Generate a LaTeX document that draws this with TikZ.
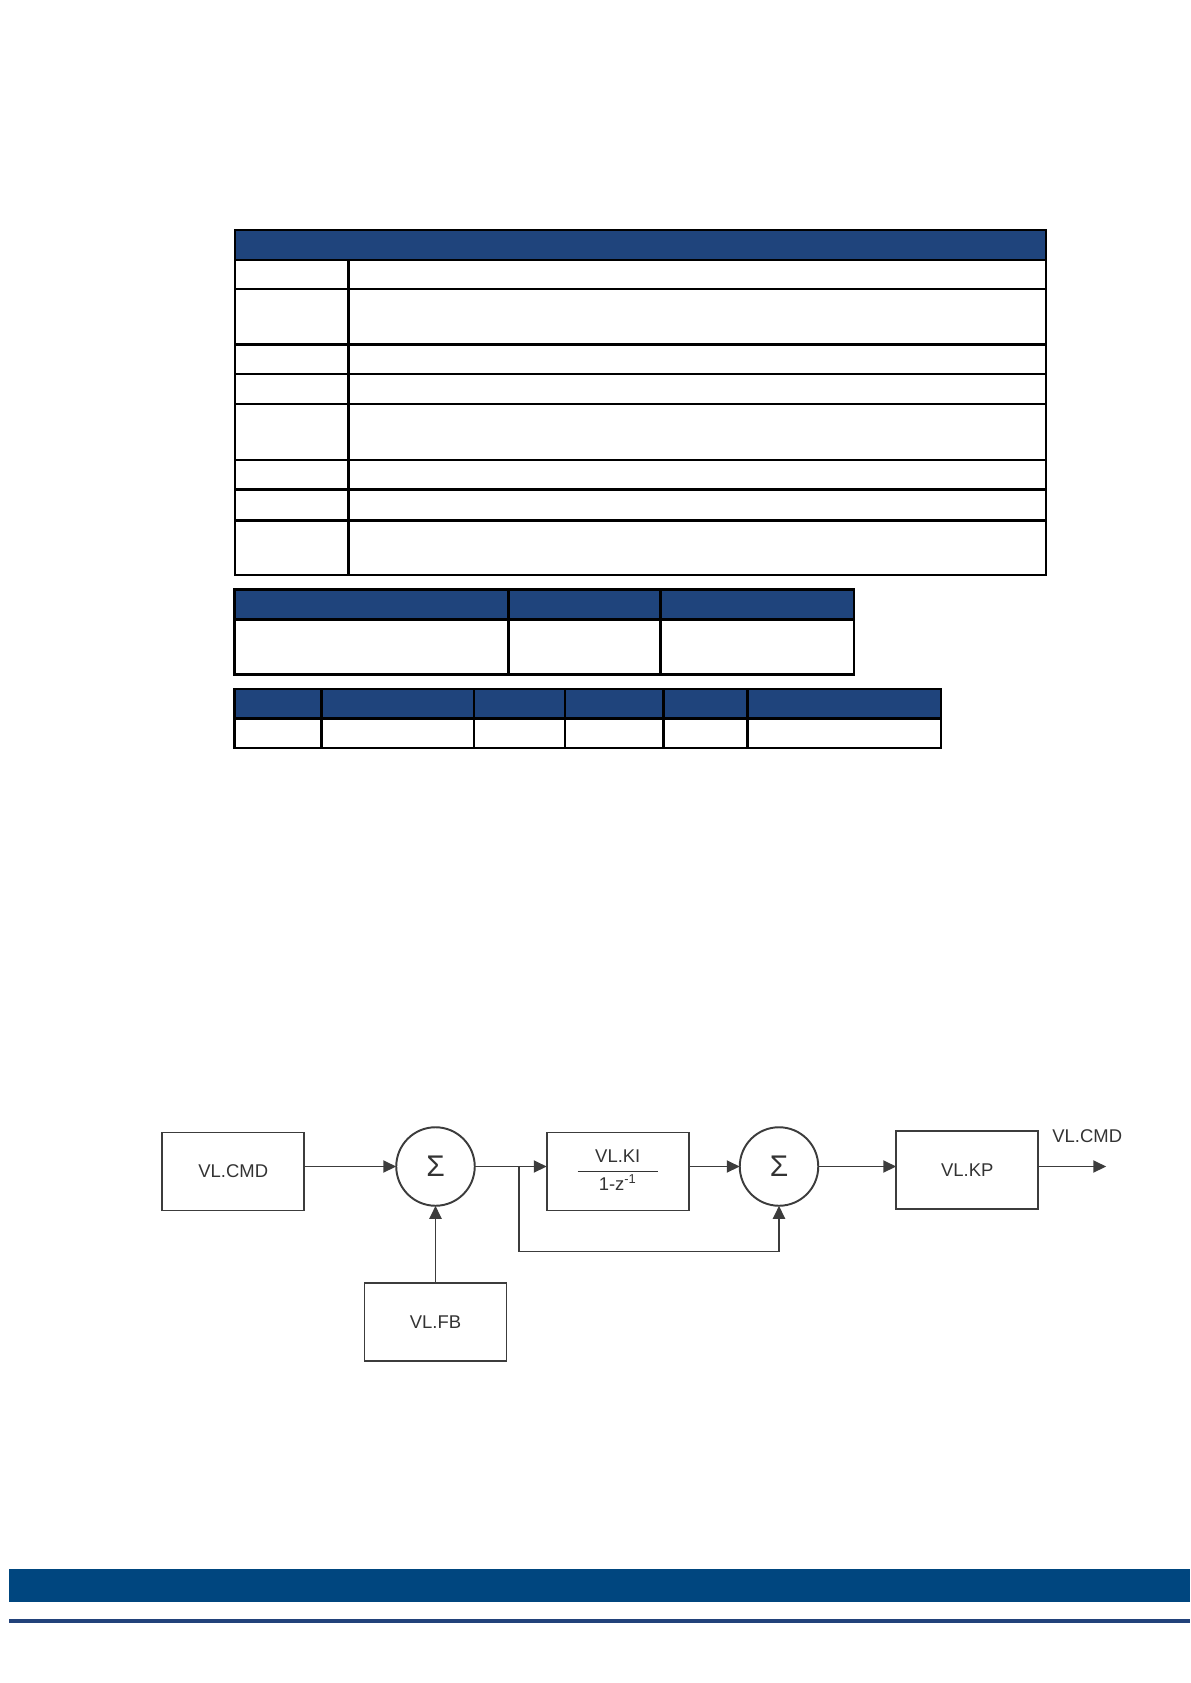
\documentclass[tikz,border=0pt]{standalone}
\usepackage{fontspec}
\setmainfont{Liberation Sans}
\usepackage{tikz}
\usetikzlibrary{arrows.meta,positioning}
\definecolor{navy}{RGB}{31,68,124}
\definecolor{band}{RGB}{0,70,127}
\definecolor{stripe}{RGB}{34,66,122}
\definecolor{wire}{RGB}{60,60,60}
\setlength{\arrayrulewidth}{0.8pt}

\begin{document}
\begin{tikzpicture}[node distance=1.5cm,grid/.style={draw=black,line width=1.5pt},head/.style={fill=navy,draw=black,line width=1.5pt},block/.style={rectangle,draw=wire,line width=1.1pt,outer sep=0pt,text=black!80,minimum width=2.84cm,minimum height=1.56cm,font=\fontsize{10.5}{12.6}\selectfont},sum/.style={circle,draw=wire,line width=1.1pt,outer sep=0pt,text=black!80,minimum size=1.57cm,inner sep=0pt,font=\fontsize{17}{20}\selectfont},arrow/.style={-{Triangle[length=2.6mm,width=2.4mm]},line width=1.1pt,draw=wire}]
\useasboundingbox (0,0) rectangle (23.8,-33.66);
% first table
\filldraw[head] (4.70,-4.60) rectangle (20.92,-5.20);
\draw[grid] (4.70,-5.20) rectangle (20.92,-11.50);
\draw[grid] (6.97,-5.20) -- (6.97,-11.50);
\draw[grid] (4.70,-5.78) -- (20.92,-5.78) (4.70,-6.89) -- (20.92,-6.89) (4.70,-7.48) -- (20.92,-7.48) (4.70,-8.08) -- (20.92,-8.08);
\draw[grid] (4.70,-9.20) -- (20.92,-9.20) (4.70,-9.79) -- (20.92,-9.79) (4.70,-10.41) -- (20.92,-10.41);
% second table
\filldraw[head] (4.69,-11.79) rectangle (17.08,-12.39);
\draw[grid] (4.69,-12.39) rectangle (17.08,-13.49);
\draw[grid] (10.17,-11.79) -- (10.17,-13.49) (13.21,-11.79) -- (13.21,-13.49);
% third table
\filldraw[head] (4.69,-13.78) rectangle (18.82,-14.37);
\draw[grid] (4.69,-14.37) rectangle (18.82,-14.96);
\draw[grid] (6.43,-13.78) -- (6.43,-14.96) (9.48,-13.78) -- (9.48,-14.96) (11.30,-13.78) -- (11.30,-14.96) (13.27,-13.78) -- (13.27,-14.96) (14.95,-13.78) -- (14.95,-14.96);
% loop diagram
\node[sum] (s1) at (8.71,-23.33) {Σ};
\node[sum,right=5.30cm of s1] (s2) {Σ};
\node[block,left=1.84cm of s1,yshift=-1mm] (cmd) {VL.CMD};
\node[block,right=1.44cm of s1,yshift=-1mm] (ki) {\renewcommand{\arraystretch}{1.2}\begin{tabular}{@{\hspace{10pt}}c@{\hspace{10pt}}}VL.KI\\\hline 1-z\textsuperscript{-1}\end{tabular}};
\node[block,right=1.56cm of s2,yshift=-0.7mm] (kp) {VL.KP};
\node[block,below=1.55cm of s1] (fb) {VL.FB};
\coordinate[right=0.88cm of s1] (br);
\coordinate[below=1.70cm of br] (brlow);
\coordinate[right=5.76cm of s2] (out);
\node[text=black!80,font=\fontsize{10.5}{12.6}\selectfont,above=3.5mm of out,xshift=-3.8mm] (outlbl) {VL.CMD};
\draw[arrow] (cmd.east |- s1) -- (s1);
\draw[arrow] (fb) -- (s1);
\draw[arrow] (s1) -- (ki.west |- s1);
\draw[arrow] (ki.east |- s2) -- (s2);
\draw[arrow] (br) -- (brlow) -| (s2);
\draw[arrow] (s2) -- (kp.west |- s2);
\draw[arrow] (kp.east |- out) -- (out);
% footer
\fill[band] (0.18,-31.38) rectangle (23.8,-32.03);
\fill[stripe] (0.18,-32.38) rectangle (23.8,-32.45);
\end{tikzpicture}
\end{document}
